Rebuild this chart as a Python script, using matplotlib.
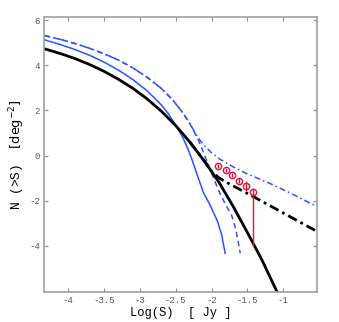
import matplotlib
matplotlib.use("Agg")
import matplotlib.pyplot as plt

# Data
black_x = [-4.33, -4.1, -3.9, -3.7, -3.5, -3.3, -3.1, -2.9, -2.7, -2.5, -2.3, -2.1, -1.9, -1.7, -1.5, -1.3, -1.08]
black_y = [4.74, 4.52, 4.30, 4.04, 3.74, 3.39, 2.99, 2.52, 1.97, 1.33, 0.59, -0.25, -1.17, -2.25, -3.42, -4.62, -6.10]

black_dd_x = [-2.3, -2.1, -2.0, -1.9, -1.81, -1.42, -0.53]
black_dd_y = [0.59, -0.25, -0.70, -0.98, -1.16, -1.82, -3.37]

blue_x = [-4.33, -4.1, -3.9, -3.7, -3.5, -3.3, -3.1, -2.9, -2.7, -2.6, -2.5, -2.4, -2.33, -2.27,
          -2.19, -2.11, -2.02, -1.92, -1.86, -1.81]
blue_y = [5.14, 4.92, 4.70, 4.45, 4.15, 3.80, 3.38, 2.88, 2.25, 1.85, 1.35, 0.80, 0.30, -0.20,
          -0.95, -1.67, -2.20, -2.90, -3.50, -4.34]

blue_dash_x = [-4.33, -4.1, -3.9, -3.7, -3.5, -3.3, -3.1, -2.9, -2.7, -2.55, -2.4, -2.3, -2.2,
               -2.12, -2.04, -1.96, -1.88, -1.80, -1.72, -1.66, -1.60]
blue_dash_y = [5.33, 5.15, 4.97, 4.76, 4.52, 4.24, 3.90, 3.48, 2.98, 2.50, 1.90, 1.40, 0.80,
               0.20, -0.45, -1.10, -1.70, -2.20, -2.65, -3.30, -4.34]

blue_dd_x = [-4.33, -4.1, -3.9, -3.7, -3.5, -3.3, -3.1, -2.9, -2.7, -2.55, -2.4, -2.3, -2.2,
             -2.12, -2.0, -1.88, -1.7, -1.5, -1.2, -0.9, -0.53]
blue_dd_y = [5.33, 5.15, 4.97, 4.76, 4.52, 4.24, 3.90, 3.48, 2.98, 2.50, 1.90, 1.40, 0.85,
             0.50, 0.12, -0.17, -0.50, -0.82, -1.22, -1.67, -2.27]

obs_x = [-1.904, -1.80, -1.71, -1.615, -1.513, -1.416]
obs_y = [-0.46, -0.64, -0.87, -1.12, -1.35, -1.63]
obs_err_lo = [0.08, 0.08, 0.08, 0.10, 0.22, 2.37]
obs_err_hi = [0.08, 0.08, 0.08, 0.10, 0.22, 0.18]

xticks = [-4, -3.5, -3, -2.5, -2, -1.5, -1]
xticklabels = ["-4", "-3.5", "-3", "-2.5", "-2", "-1.5", "-1"]
yticks = [-4, -2, 0, 2, 4, 6]
yticklabels = ["-4", "-2", "0", "2", "4", "6"]

mono = "Liberation Mono"
blue = "#3050ff"
red = "#e0103a"

plt.rcParams["mathtext.fontset"] = "dejavusans"

fig = plt.figure(figsize=(3.39, 3.22), dpi=100)
ax = fig.add_axes([44/339, 1 - 292/322, (317-44)/339, (292-17)/322])

ax.plot(blue_dd_x, blue_dd_y, color=blue, lw=1.1, dashes=[4, 2, 1, 2])
ax.plot(blue_dash_x, blue_dash_y, color=blue, lw=1.1, dashes=[3.5, 2.5])
ax.plot(blue_x, blue_y, color=blue, lw=1.1)
ax.plot(black_dd_x, black_dd_y, color="black", lw=2.0, dashes=[3.5, 1.5, 1, 1.5])
ax.plot(black_x, black_y, color="black", lw=2.0)

ax.errorbar(obs_x, obs_y, yerr=[obs_err_lo, obs_err_hi], fmt="o", mfc="none",
            mec=red, ecolor=red, ms=4.5, mew=1.0, elinewidth=1.0, capsize=0)

ax.set_xlim(-4.335, -0.53)
ax.set_ylim(-6.06, 6.15)
ax.set_xticks(xticks)
ax.set_xticklabels(xticklabels)
ax.set_yticks(yticks)
ax.set_yticklabels(yticklabels)

for s in ax.spines.values():
    s.set_color("#a0a0a0")
    s.set_linewidth(1.2)
ax.tick_params(direction="in", length=3, width=0.8, color="#909090",
               top=True, right=True, labelsize=6.5, labelcolor="#555555", pad=3)
for lab in ax.get_xticklabels() + ax.get_yticklabels():
    lab.set_family(mono)

ax.set_xlabel("Log(S)  [ Jy ]", fontsize=8.7, family=mono, labelpad=1)
ax.set_ylabel("N (>S)  $\\mathrm{[deg}^{-2}\\mathrm{]}$", fontsize=9.3, family=mono)
ax.yaxis.set_label_coords(-0.062, 0.5)

fig.savefig("out.png", dpi=100)
